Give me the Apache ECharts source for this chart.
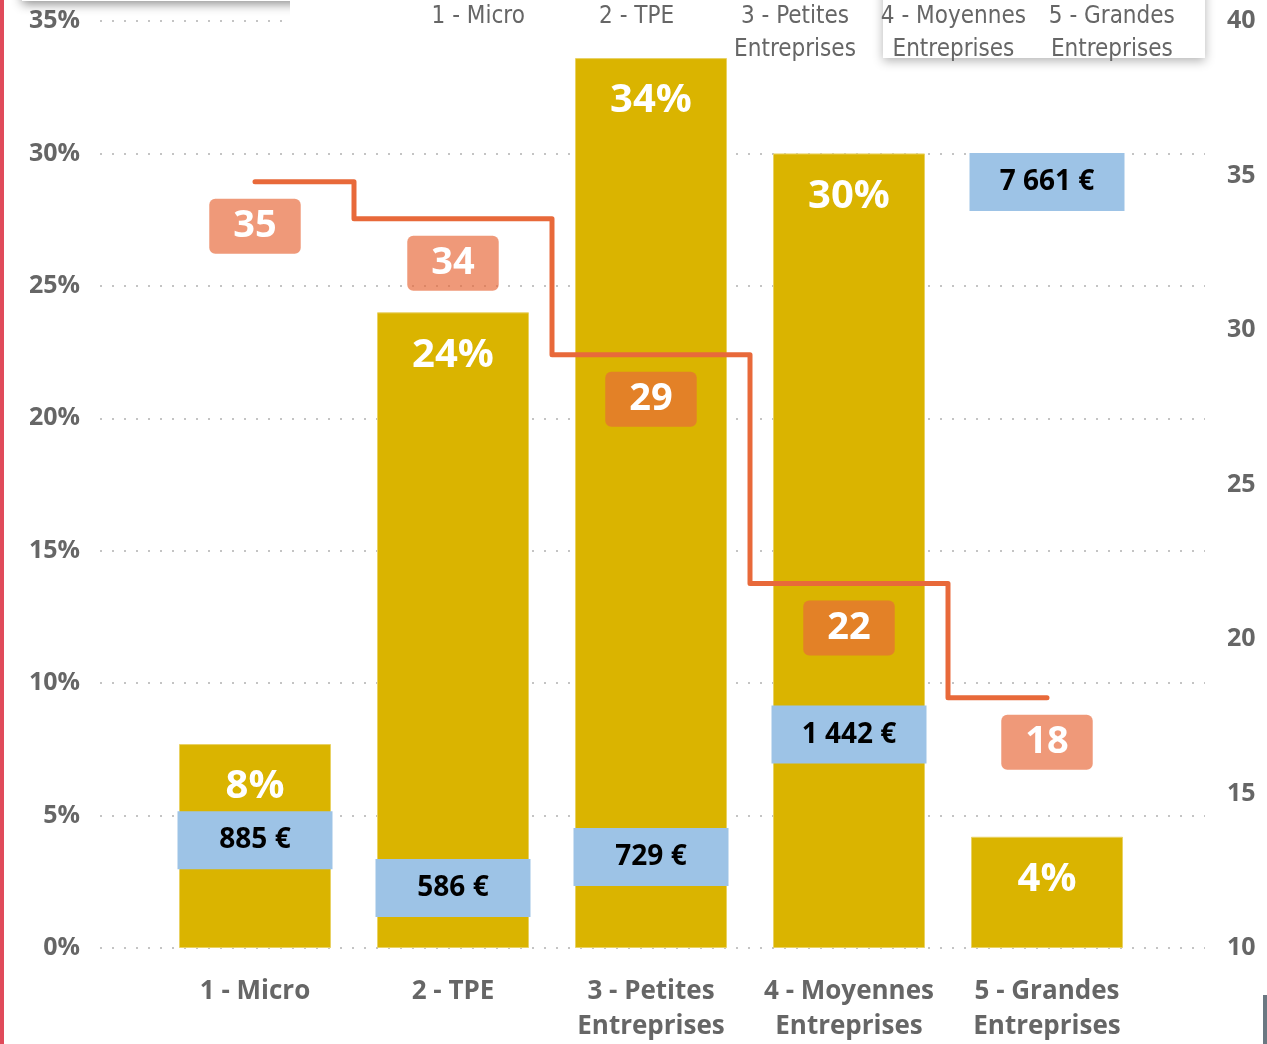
<!DOCTYPE html>
<html>
<head>
<meta charset="utf-8">
<script src="https://cdn.jsdelivr.net/npm/echarts@6/dist/echarts.min.js"></script>
<style>
  html, body { margin: 0; padding: 0; background: #fff; }
  #main { width: 1267px; height: 1044px; }
</style>
</head>
<body>
<div id="main"></div>
<script>
// categories
const categories = ['1 - Micro', '2 - TPE', '3 - Petites\nEntreprises', '4 - Moyennes\nEntreprises', '5 - Grandes\nEntreprises'];
// share of companies (%), left axis
const sharePct = [7.7, 24.0, 33.6, 30.0, 4.2];
// average age, right axis (step line)
const ageValues = [34.8, 33.6, 29.2, 21.8, 18.1];
// average amount in euros (blue labels)
const euroValues = [885, 586, 729, 1442, 7661];
// tick labels
const pctTicks = { min: 0, max: 35, interval: 5 };
const ageTicks = { min: 10, max: 40, interval: 5 };

const FONT = "'Open Sans', 'Noto Sans', sans-serif";
const GREY = '#666666';

const fmtEuro = v => String(v).replace(/\B(?=(\d{3})+(?!\d))/g, ' ') + ' €';

const chartDom = document.getElementById('main');
const myChart = echarts.init(chartDom);

const option = {
    animation: false,
    textStyle: { fontFamily: FONT },
    grid: [
        // grid for the dotted guide lines and both visible axes
        { left: 100, right: 62, top: 21, bottom: 96 },
        // grid for the bars / line
        { left: 156, right: 121, top: 21, bottom: 96 },
        // faded category row at the top
        { left: 399, width: 792, top: -1, height: 1 }
    ],
    xAxis: [
        { gridIndex: 0, type: 'value', min: 0, max: 1, show: false },
        {
            gridIndex: 1, type: 'category', data: categories,
            axisLine: { show: false }, axisTick: { show: false },
            axisLabel: {
                interval: 0, margin: 26, color: GREY, fontSize: 26, fontWeight: 'bold',
                lineHeight: 35, fontFamily: FONT
            }
        },
        {
            gridIndex: 2, type: 'category', data: categories, position: 'bottom', z: 10,
            axisLine: { show: false }, axisTick: { show: false },
            axisLabel: {
                interval: 0, margin: 0, color: '#666', fontSize: 24, lineHeight: 33,
                fontFamily: "'DejaVu Sans Condensed', 'Liberation Sans Narrow', sans-serif"
            }
        }
    ],
    yAxis: [
        {
            gridIndex: 0, type: 'value', min: pctTicks.min, max: pctTicks.max, interval: pctTicks.interval,
            position: 'left',
            axisLine: { show: false }, axisTick: { show: false },
            axisLabel: { formatter: '{value}%', margin: 20, color: GREY, fontSize: 25, fontWeight: 'bold' },
            splitLine: { show: true, lineStyle: { color: '#c4c4c4', width: 2, type: [2, 10] } }
        },
        {
            gridIndex: 0, type: 'value', min: ageTicks.min, max: ageTicks.max, interval: ageTicks.interval,
            position: 'right',
            axisLine: { show: false }, axisTick: { show: false },
            axisLabel: { margin: 22, color: GREY, fontSize: 25, fontWeight: 'bold' },
            splitLine: { show: false }
        },
        { gridIndex: 1, type: 'value', min: pctTicks.min, max: pctTicks.max, show: false },
        { gridIndex: 1, type: 'value', min: ageTicks.min, max: ageTicks.max, show: false },
        // hidden square-root scale for the euro labels
        { gridIndex: 1, type: 'value', min: 18.83, max: 101.97, show: false },
        { gridIndex: 2, type: 'value', show: false }
    ],
    graphic: [
        { type: 'rect', left: 0, top: 0, shape: { x: 0, y: 0, width: 4, height: 1044 }, style: { fill: '#E04A5A' } },
        { type: 'rect', shape: { x: 1263, y: 995, width: 4, height: 49 }, style: { fill: '#6b7882' } },
        {
            type: 'rect', z: 5, shape: { x: 22, y: -40, width: 280, height: 41 },
            style: { fill: '#fff', shadowBlur: 10, shadowOffsetY: 3, shadowColor: 'rgba(0,0,0,0.45)' }
        },
        { type: 'rect', z: 5, shape: { x: 290, y: 0, width: 900, height: 32 }, style: { fill: '#fff' } },
        {
            type: 'rect', z: 5, shape: { x: 883, y: -20, width: 322, height: 78 },
            style: { fill: '#fff', shadowBlur: 10, shadowOffsetY: 3, shadowColor: 'rgba(0,0,0,0.3)' }
        }
    ],
    series: [
        {
            name: 'Part',
            type: 'bar',
            xAxisIndex: 1, yAxisIndex: 2,
            barWidth: 152,
            data: sharePct,
            itemStyle: { color: '#DAB400', borderColor: '#e9d264', borderWidth: 1 },
            label: {
                show: true, position: 'insideTop', distance: 21,
                color: '#fff', fontSize: 40, fontWeight: 'bold', lineHeight: 44,
                formatter: p => Math.round(p.value) + '%'
            },
            z: 2
        },
        {
            name: 'Age',
            type: 'line',
            xAxisIndex: 1, yAxisIndex: 3,
            step: 'middle',
            data: ageValues,
            symbol: 'circle', symbolSize: 0.1,
            itemStyle: { color: 'rgba(0,0,0,0)' },
            lineStyle: { color: '#E8693A', width: 5, cap: 'round', join: 'round' },
            label: {
                show: true, position: 'bottom', distance: 17,
                color: '#fff', fontSize: 38, fontWeight: 'bold', lineHeight: 41,
                backgroundColor: 'rgba(232,104,58,0.68)', borderRadius: 6, padding: [7, 24],
                formatter: p => Math.round(p.value)
            },
            z: 3
        },
        {
            name: 'Montant',
            type: 'scatter',
            xAxisIndex: 1, yAxisIndex: 4,
            symbolSize: 0.1,
            itemStyle: { color: 'rgba(0,0,0,0)', opacity: 1 },
            data: euroValues.map((v, i) => {
                const item = { value: Math.sqrt(v) };
                if (i === 0) item.label = { offset: [0, 14] };
                return item;
            }),
            label: {
                show: true, position: 'inside', opacity: 1,
                color: '#000', fontSize: 28, fontWeight: 'bold',
                width: 155, height: 58, lineHeight: 58, align: 'center', verticalAlign: 'middle',
                backgroundColor: '#9DC3E6',
                formatter: p => fmtEuro(euroValues[p.dataIndex])
            },
            z: 5
        }
    ]
};

myChart.setOption(option);
</script>
</body>
</html>
